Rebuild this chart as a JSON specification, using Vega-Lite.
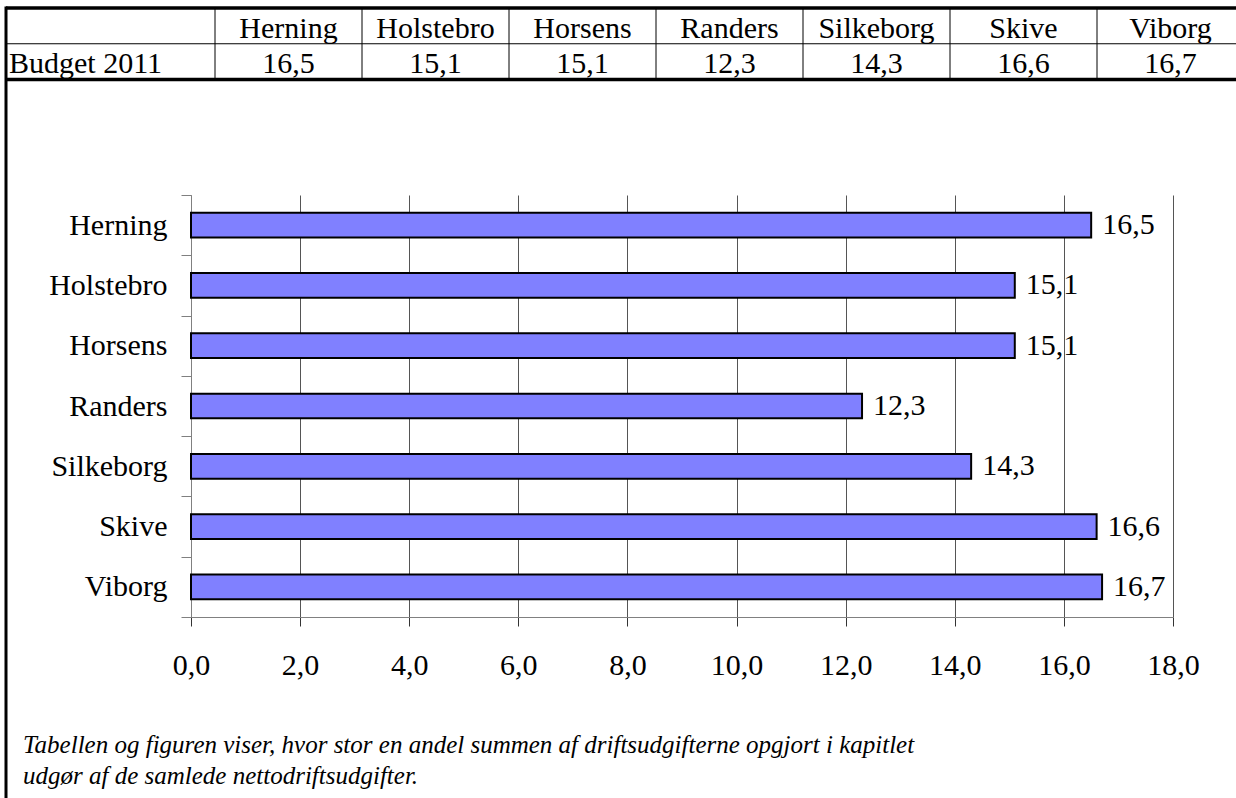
{
  "$schema": "https://vega.github.io/schema/vega-lite/v6.json",
  "width": 982,
  "height": 422,
  "autosize": {"type": "none"},
  "padding": {"left": 191, "top": 195, "right": 63, "bottom": 181},
  "background": "white",
  "datasets": {
    "kommuner": [
      {"kommune": "Herning", "value": 16.5},
      {"kommune": "Holstebro", "value": 15.1},
      {"kommune": "Horsens", "value": 15.1},
      {"kommune": "Randers", "value": 12.3},
      {"kommune": "Silkeborg", "value": 14.3},
      {"kommune": "Skive", "value": 16.6},
      {"kommune": "Viborg", "value": 16.7}
    ],
    "rowlabel": [{"label": "Budget 2011"}],
    "one": [{"id": 1}]
  },
  "title": {
    "text": [
      "Tabellen og figuren viser, hvor stor en andel summen af driftsudgifterne opgjort i kapitlet",
      "udgør af de samlede nettodriftsudgifter."
    ],
    "orient": "bottom",
    "anchor": "start",
    "frame": "group",
    "dx": -168,
    "offset": -67,
    "font": "Liberation Serif",
    "fontStyle": "italic",
    "fontWeight": "normal",
    "fontSize": 25,
    "lineHeight": 31,
    "color": "black",
    "baseline": "top"
  },
  "config": {
    "view": {"stroke": null},
    "locale": {
      "number": {"decimal": ",", "thousands": ".", "grouping": [3], "currency": ["", " kr."]}
    },
    "font": "Liberation Serif",
    "text": {"font": "Liberation Serif", "fontSize": 30, "color": "black"},
    "axis": {"labelFont": "Liberation Serif", "labelFontSize": 30, "labelColor": "black"}
  },
  "resolve": {"scale": {"x": "independent", "y": "independent"}},
  "layer": [
    {
      "data": {"name": "kommuner"},
      "encoding": {
        "y": {
          "field": "kommune",
          "type": "nominal",
          "sort": ["Herning", "Holstebro", "Horsens", "Randers", "Silkeborg", "Skive", "Viborg"],
          "scale": {"paddingInner": 0, "paddingOuter": 0},
          "axis": {
            "title": null,
            "domainColor": "#808080",
            "domainWidth": 1,
            "tickColor": "#808080",
            "tickSize": 10,
            "tickWidth": 1,
            "tickBand": "extent",
            "labelPadding": 14,
            "grid": false
          }
        },
        "x": {
          "field": "value",
          "type": "quantitative",
          "scale": {"domain": [0, 18], "nice": false},
          "axis": {
            "title": null,
            "values": [0, 2, 4, 6, 8, 10, 12, 14, 16, 18],
            "format": ".1f",
            "grid": true,
            "gridColor": "#555555",
            "gridWidth": 1,
            "gridOpacity": 1,
            "domainColor": "#808080",
            "domainWidth": 1,
            "tickColor": "#333333",
            "tickSize": 9,
            "tickWidth": 1,
            "labelPadding": 24,
            "labelFlush": false,
            "labelOverlap": false
          }
        }
      },
      "layer": [
        {
          "mark": {"type": "bar", "fill": "#8080ff", "stroke": "black", "strokeWidth": 2, "height": {"band": 0.41}}
        },
        {
          "mark": {"type": "text", "align": "left", "baseline": "middle", "dx": 11, "fontSize": 30},
          "encoding": {"text": {"field": "value", "type": "quantitative", "format": ".1f"}}
        }
      ]
    },
    {
      "data": {"name": "kommuner"},
      "layer": [
        {
          "mark": {"type": "rule", "color": "black", "strokeWidth": 1},
          "encoding": {
            "x": {
              "field": "kommune", "type": "nominal", "bandPosition": 0,
              "sort": ["Herning", "Holstebro", "Horsens", "Randers", "Silkeborg", "Skive", "Viborg"],
              "scale": {"range": [24, 1053], "paddingInner": 0, "paddingOuter": 0},
              "axis": null
            },
            "y": {"datum": 0, "type": "quantitative", "scale": {"domain": [0, 2], "range": [-187, -115.5], "nice": false, "zero": false}, "axis": null},
            "y2": {"datum": 2}
          }
        },
        {
          "mark": {"type": "text", "align": "center", "baseline": "alphabetic", "dy": -6, "fontSize": 30},
          "encoding": {
            "x": {
              "field": "kommune", "type": "nominal",
              "sort": ["Herning", "Holstebro", "Horsens", "Randers", "Silkeborg", "Skive", "Viborg"],
              "scale": {"range": [24, 1053], "paddingInner": 0, "paddingOuter": 0},
              "axis": null
            },
            "y": {"datum": 1, "type": "quantitative", "scale": {"domain": [0, 2], "range": [-187, -115.5], "nice": false, "zero": false}, "axis": null},
            "text": {"field": "kommune", "type": "nominal"}
          }
        },
        {
          "mark": {"type": "text", "align": "center", "baseline": "alphabetic", "dy": -7, "fontSize": 30},
          "encoding": {
            "x": {
              "field": "kommune", "type": "nominal",
              "sort": ["Herning", "Holstebro", "Horsens", "Randers", "Silkeborg", "Skive", "Viborg"],
              "scale": {"range": [24, 1053], "paddingInner": 0, "paddingOuter": 0},
              "axis": null
            },
            "y": {"datum": 2, "type": "quantitative", "scale": {"domain": [0, 2], "range": [-187, -115.5], "nice": false, "zero": false}, "axis": null},
            "text": {"field": "value", "type": "quantitative", "format": ".1f"}
          }
        }
      ]
    },
    {
      "data": {"name": "rowlabel"},
      "mark": {"type": "text", "align": "left", "baseline": "alphabetic", "dx": 3, "dy": -7, "fontSize": 30},
      "encoding": {
        "x": {"datum": 0, "type": "quantitative", "scale": {"domain": [0, 1], "range": [-185, 1045], "nice": false, "zero": false}, "axis": null},
        "y": {"datum": 2, "type": "quantitative", "scale": {"domain": [0, 2], "range": [-187, -115.5], "nice": false, "zero": false}, "axis": null},
        "text": {"field": "label", "type": "nominal"}
      }
    },
    {
      "data": {"name": "one"},
      "encoding": {
        "x": {"datum": 0, "type": "quantitative", "scale": {"domain": [0, 1], "range": [-185, 1045], "nice": false, "zero": false}, "axis": null},
        "x2": {"datum": 1}
      },
      "layer": [
        {
          "mark": {"type": "rule", "color": "black", "strokeWidth": 3.5},
          "encoding": {"y": {"datum": 0, "type": "quantitative", "scale": {"domain": [0, 2], "range": [-187, -115.5], "nice": false, "zero": false}, "axis": null}}
        },
        {
          "mark": {"type": "rule", "color": "black", "strokeWidth": 1},
          "encoding": {"y": {"datum": 1, "type": "quantitative", "scale": {"domain": [0, 2], "range": [-187, -115.5], "nice": false, "zero": false}, "axis": null}}
        },
        {
          "mark": {"type": "rule", "color": "black", "strokeWidth": 3.5},
          "encoding": {"y": {"datum": 2, "type": "quantitative", "scale": {"domain": [0, 2], "range": [-187, -115.5], "nice": false, "zero": false}, "axis": null}}
        }
      ]
    },
    {
      "data": {"name": "one"},
      "mark": {"type": "rule", "color": "black", "strokeWidth": 3},
      "encoding": {
        "x": {"datum": 0, "type": "quantitative", "scale": {"domain": [0, 1], "range": [-185, 1045], "nice": false, "zero": false}, "axis": null},
        "y": {"datum": 0, "type": "quantitative", "scale": {"domain": [0, 1], "range": [-188.5, 603], "nice": false, "zero": false}, "axis": null},
        "y2": {"datum": 1}
      }
    }
  ]
}
